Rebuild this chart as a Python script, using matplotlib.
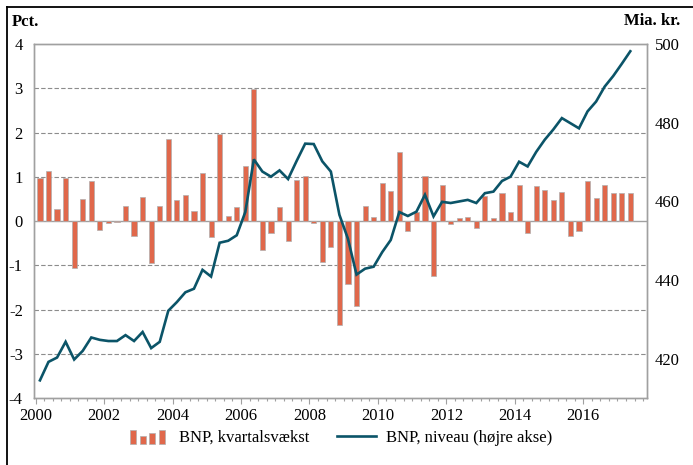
import pandas as pd
import matplotlib
matplotlib.use("Agg")
import matplotlib.pyplot as plt
from matplotlib.legend_handler import HandlerBase
from matplotlib.patches import Rectangle
from matplotlib.lines import Line2D
from matplotlib.ticker import MultipleLocator

# BNP, kvartaler 2000K1 - 2017K2
quarters = pd.period_range("2000Q1", "2017Q2", freq="Q")

# kvartalsvækst, pct.
growth = [
    0.98, 1.13, 0.28, 0.98,
    -1.07, 0.49, 0.90, -0.21,
    -0.04, -0.02, 0.35, -0.34,
    0.54, -0.94, 0.35, 1.86,
    0.48, 0.60, 0.23, 1.08,
    -0.36, 1.97, 0.11, 0.33,
    1.25, 2.98, -0.66, -0.27,
    0.33, -0.45, 0.93, 1.01,
    -0.04, -0.92, -0.58, -2.34,
    -1.43, -1.93, 0.34, 0.09,
    0.86, 0.69, 1.57, -0.22,
    0.20, 1.01, -1.23, 0.82,
    -0.07, 0.07, 0.10, -0.16,
    0.56, 0.07, 0.63, 0.20,
    0.82, -0.28, 0.80, 0.70,
    0.48, 0.65, -0.34, -0.22,
    0.90, 0.52, 0.82, 0.63,
    0.63, 0.63,
]

# niveau, mia. kr.
level = [
    414.5, 419.2, 420.3, 424.3,
    419.8, 422.0, 425.4, 424.8,
    424.5, 424.5, 426.0, 424.5,
    426.8, 422.7, 424.3, 432.2,
    434.4, 436.9, 437.8, 442.6,
    440.9, 449.5, 450.0, 451.4,
    457.3, 470.7, 467.6, 466.3,
    467.9, 465.7, 470.3, 474.7,
    474.6, 470.2, 467.6, 456.6,
    450.5, 441.4, 442.9, 443.4,
    447.1, 450.2, 457.3, 456.3,
    457.4, 461.7, 456.2, 459.9,
    459.6, 460.0, 460.4, 459.6,
    462.1, 462.5, 465.2, 466.3,
    470.1, 468.9, 472.6, 475.7,
    478.3, 481.2, 479.9, 478.6,
    482.9, 485.4, 489.2, 491.9,
    495.0, 498.2,
]

left_ticks = [-4, -3, -2, -1, 0, 1, 2, 3, 4]
right_ticks = [420, 440, 460, 480, 500]
year_ticks = [2000, 2002, 2004, 2006, 2008, 2010, 2012, 2014, 2016]

BAR_COLOR = "#E0684B"
BAR_EDGE = "#B0B0B0"
LINE_COLOR = "#0B5468"
GRID_COLOR = "#8C8C8C"
SPINE_COLOR = "#A0A0A0"

plt.rcParams["font.family"] = ["Liberation Serif", "DejaVu Serif"]
plt.rcParams["font.size"] = 12
plt.rcParams["axes.unicode_minus"] = False


class HandlerBars(HandlerBase):
    """Legend key with four small bars, Excel style."""

    def create_artists(self, legend, orig_handle, xdescent, ydescent,
                       width, height, fontsize, trans):
        heights = [1.0, 0.6, 0.8, 1.0]
        step = width / len(heights)
        bw = step * 0.62
        out = []
        for i, h in enumerate(heights):
            r = Rectangle((-xdescent + i * step, -ydescent - 1.5),
                          bw, h * height * 1.2,
                          facecolor=BAR_COLOR, edgecolor=BAR_EDGE,
                          linewidth=0.5, transform=trans)
            out.append(r)
        return out


# midten af hvert kvartal i decimalår
x = [q.year + (q.quarter - 0.5) / 4 for q in quarters]

fig = plt.figure(figsize=(6.93, 4.65), dpi=100)
ax = fig.add_axes([0.049, 0.144, 0.884, 0.761])
ax2 = ax.twinx()

bars = ax.bar(x, growth, width=0.15, color=BAR_COLOR,
              edgecolor=BAR_EDGE, linewidth=0.5, zorder=3)
ax.axhline(0, color=SPINE_COLOR, linewidth=1.0, zorder=2)
for v in left_ticks[1:-1]:
    if v != 0:
        ax.axhline(v, color=GRID_COLOR, linewidth=0.8,
                   linestyle=(0, (4, 2)), zorder=1)

line, = ax2.plot(x, level, color=LINE_COLOR, linewidth=1.9,
                 solid_joinstyle="miter")

ax.set_xlim(1999.95, 2017.85)
ax.set_ylim(-4, 4)
ax2.set_ylim(410, 500)
ax.set_yticks(left_ticks)
ax2.set_yticks(right_ticks)
ax.set_xticks(year_ticks)
ax.xaxis.set_minor_locator(MultipleLocator(0.25))

ax.tick_params(axis="y", length=0, pad=8)
ax2.tick_params(axis="y", length=0, pad=6)
ax.tick_params(axis="x", which="major", length=4, width=0.8,
               color=SPINE_COLOR, pad=3)
ax.tick_params(axis="x", which="minor", length=2.5, width=0.8,
               color=SPINE_COLOR)

for a in (ax, ax2):
    for s in a.spines.values():
        s.set_color(SPINE_COLOR)
        s.set_linewidth(1.0)

fig.text(12 / 693, 1 - 22 / 465, "Pct.", fontsize=12,
         fontweight="bold", va="center", ha="left")
fig.text(680 / 693, 1 - 21 / 465, "Mia. kr.", fontsize=12,
         fontweight="bold", va="center", ha="right")

fig.legend([bars, line],
           ["BNP, kvartalsvækst", "BNP, niveau (højre akse)"],
           handler_map={type(bars): HandlerBars()},
           loc="center", bbox_to_anchor=(341 / 693, 1 - 438 / 465),
           ncol=2, frameon=False, fontsize=12, handlelength=2.3,
           handletextpad=0.6, columnspacing=1.7)

# ramme om figuren (kun top og venstre side er synlige)
fig.add_artist(Line2D([7 / 693, 1], [1 - 7 / 465, 1 - 7 / 465],
                      transform=fig.transFigure, color="black", linewidth=1.3))
fig.add_artist(Line2D([7 / 693, 7 / 693], [0, 1 - 7 / 465],
                      transform=fig.transFigure, color="black", linewidth=1.3))

fig.savefig("out.png", dpi=100)
